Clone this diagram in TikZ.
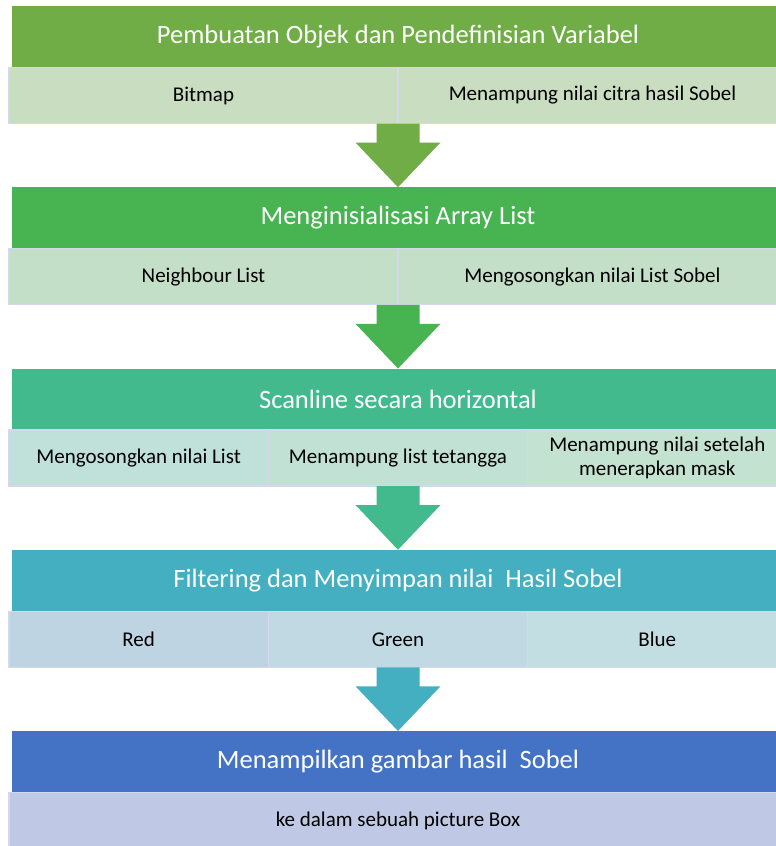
\documentclass[tikz,border=0pt]{standalone}
\usepackage{fontspec}
\setmainfont{Carlito}
\usetikzlibrary{calc}

% stage header colours (green to blue)
\definecolor{hA}{HTML}{70AD47}
\definecolor{hB}{HTML}{47B451}
\definecolor{hC}{HTML}{43BA8D}
\definecolor{hD}{HTML}{44AFC1}
\definecolor{hE}{HTML}{4472C4}
% detail cell tints
\definecolor{tA}{HTML}{C9DDC0}
\definecolor{tB}{HTML}{C4DFC8}
\definecolor{tCa}{HTML}{C0E0DA}
\definecolor{tCb}{HTML}{C1E1D5}
\definecolor{tCc}{HTML}{C4E2D0}
\definecolor{tDa}{HTML}{BFD4E2}
\definecolor{tDb}{HTML}{C0D9E2}
\definecolor{tDc}{HTML}{C2DEE3}
\definecolor{tE}{HTML}{BFC9E5}
\definecolor{cellline}{HTML}{D5D8EC}

% block arrow from the bottom of a detail row (#1) down to the next header (#2)
\newcommand\stagearrow[3]{%
  \fill[#3] ($(#1)+(-21.5,0)$) -- ($(#1)+(21.5,0)$) -- ($(#1)+(21.5,19)$)
    -- ($(#1)+(42.5,19)$) -- (#2) -- ($(#1)+(-42.5,19)$)
    -- ($(#1)+(-21.5,19)$) -- cycle;}

\begin{document}
\begin{tikzpicture}[x=1pt,y=-1pt,
  header/.style={fill=#1, draw=none, minimum width=772pt, minimum height=61.5pt,
    inner sep=0pt, outer sep=0pt, text=white, anchor=north west,
    font=\fontsize{26.5}{30}\selectfont},
  cell/.style={fill=#1, draw=cellline, line width=1.2pt, minimum height=56pt,
    inner sep=0pt, outer sep=0pt, text=black, anchor=north west, align=center,
    font=\fontsize{21}{23.5}\selectfont},
  half/.style={cell=#1, minimum width=389pt},
  third/.style={cell=#1, minimum width=259.33pt}]
\useasboundingbox (0,0) rectangle (776,846);
\clip (0,0) rectangle (776,846);
\fill[white] (0,0) rectangle (776,846);

% stage 1
\node[header=hA] (h1) at (12,6) {Pembuatan Objek dan Pendefinisian Variabel};
\node[half=tA] (c11) at (9,67.5) {Bitmap};
\node[half=tA] (c12) at (398,67.5) {Menampung nilai citra hasil Sobel};

% stage 2
\node[header=hB] (h2) at (12,187.25) {Menginisialisasi Array List};
\node[half=tB] (c21) at (9,248.75) {Neighbour List};
\node[half=tB] (c22) at (398,248.75) {Mengosongkan nilai List Sobel};

% stage 3
\node[header=hC] (h3) at (12,368.5) {Scanline secara horizontal};
\node[third=tCa] (c31) at (9,430) {Mengosongkan nilai List};
\node[third=tCb] (c32) at (268.33,430) {Menampung list tetangga};
\node[third=tCc] (c33) at (527.67,430) {Menampung nilai setelah\\menerapkan mask};

% stage 4
\node[header=hD] (h4) at (12,549.75) {Filtering dan Menyimpan nilai~ Hasil Sobel};
\node[third=tDa] (c41) at (9,611.25) {Red};
\node[third=tDb] (c42) at (268.33,611.25) {Green};
\node[third=tDc] (c43) at (527.67,611.25) {Blue};

% stage 5
\node[header=hE] (h5) at (12,731) {Menampilkan gambar hasil~ Sobel};
\node[cell=tE, minimum width=778pt] (c51) at (9,792.5) {ke dalam sebuah picture Box};

% arrows between stages
\coordinate (a1) at (c11.south -| h2.north);
\coordinate (a2) at (c21.south -| h3.north);
\coordinate (a3) at (c31.south -| h4.north);
\coordinate (a4) at (c41.south -| h5.north);
\stagearrow{a1}{h2.north}{hA}
\stagearrow{a2}{h3.north}{hB}
\stagearrow{a3}{h4.north}{hC}
\stagearrow{a4}{h5.north}{hD}
\end{tikzpicture}
\end{document}
